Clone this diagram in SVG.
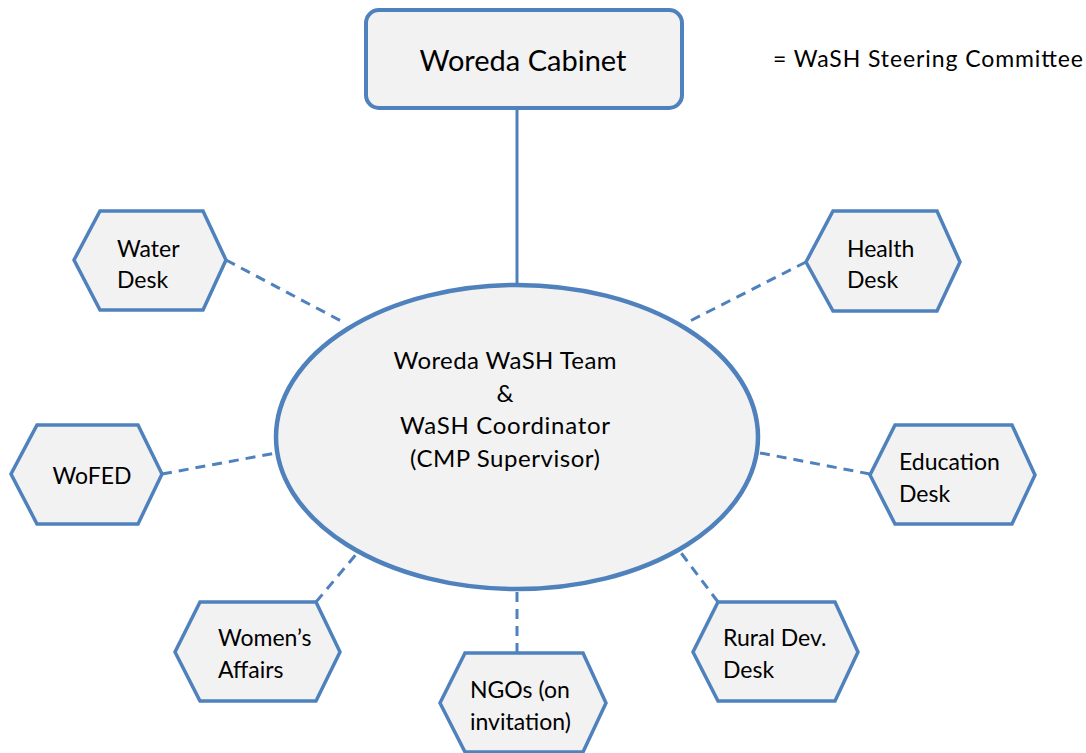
<svg xmlns="http://www.w3.org/2000/svg" width="1086" height="753" viewBox="0 0 1086 753">
<style>
.shape{fill:#f2f2f2;stroke:#4f81bd;stroke-width:3.5;stroke-linejoin:miter}
.t{font-family:"Lato","Open Sans","Liberation Sans",sans-serif;fill:#000}
.n{font-size:23px}
.e{font-size:24px}
.d{stroke:#4f81bd;stroke-width:3;stroke-dasharray:10,7;fill:none}
.s{stroke:#4f81bd;stroke-width:3;fill:none}
</style>
<rect width="1086" height="753" fill="#fff"/>
<g id="connectors">
<line class="s" x1="517" y1="108" x2="517" y2="286"/>
<line class="d" x1="226" y1="260" x2="343" y2="322"/>
<line class="d" x1="806" y1="262" x2="688" y2="322"/>
<line class="d" x1="162" y1="474" x2="287" y2="451"/>
<line class="d" x1="870" y1="474" x2="750" y2="451"/>
<line class="d" x1="316" y1="602" x2="385" y2="520"/>
<line class="d" x1="517" y1="653" x2="517" y2="590"/>
<line class="d" x1="718" y1="602" x2="657" y2="521"/>
</g>
<g id="cabinet">
<rect class="shape" x="366" y="10" width="316" height="98" rx="13" style="stroke-width:4"/>
<text class="t" x="523" y="71" font-size="29" text-anchor="middle">Woreda Cabinet</text>
</g>
<g id="legend">
<text class="t" x="773" y="67" font-size="23" textLength="310" lengthAdjust="spacing">= WaSH Steering Committee</text>
</g>
<g id="team">
<ellipse class="shape" cx="517" cy="437" rx="241" ry="152" style="stroke-width:4.5"/>
<text class="t e" x="505" y="369" text-anchor="middle" textLength="223" lengthAdjust="spacing">Woreda WaSH Team</text>
<text class="t e" x="505" y="402" text-anchor="middle">&amp;</text>
<text class="t e" x="505" y="434" text-anchor="middle" textLength="210" lengthAdjust="spacing">WaSH Coordinator</text>
<text class="t e" x="505" y="467" text-anchor="middle" textLength="190" lengthAdjust="spacing">(CMP Supervisor)</text>
</g>
<g id="water">
<polygon class="shape" points="100,211 203,211 226,260 203,310 100,310 74,260"/>
<text class="t n" x="117" y="257">Water</text>
<text class="t n" x="117" y="288">Desk</text>
</g>
<g id="health">
<polygon class="shape" points="833,211 937,211 960,262 937,311 833,311 806,262"/>
<text class="t n" x="847" y="257">Health</text>
<text class="t n" x="847" y="288">Desk</text>
</g>
<g id="wofed">
<polygon class="shape" points="37,425 138,425 162,474 138,524 37,524 11,474"/>
<text class="t n" x="92" y="484" text-anchor="middle">WoFED</text>
</g>
<g id="education">
<polygon class="shape" points="895,425 1012,425 1035,475 1012,524 895,524 870,475"/>
<text class="t n" x="899" y="470">Education</text>
<text class="t n" x="899" y="502">Desk</text>
</g>
<g id="women">
<polygon class="shape" points="200,602 316,602 340,652 316,701 200,701 175,652"/>
<text class="t n" x="218" y="646">Women’s</text>
<text class="t n" x="218" y="678">Affairs</text>
</g>
<g id="ngos">
<polygon class="shape" points="465,653 583,653 606,703 583,752 465,752 440,703"/>
<text class="t n" x="470" y="698">NGOs (on</text>
<text class="t n" x="470" y="730">invitation)</text>
</g>
<g id="rural">
<polygon class="shape" points="718,602 835,602 858,652 835,701 718,701 693,652"/>
<text class="t n" x="723" y="646">Rural Dev.</text>
<text class="t n" x="723" y="678">Desk</text>
</g>
</svg>
